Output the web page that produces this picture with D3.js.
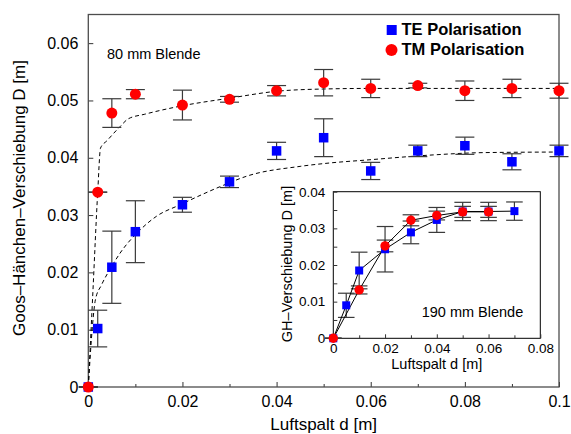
<!DOCTYPE html>
<html>
<head>
<meta charset="utf-8">
<script src="https://cdn.jsdelivr.net/npm/d3@7"></script>
<style>
  html, body { margin: 0; padding: 0; background: #fff; }
  svg { display: block; font-family: "Liberation Sans", Arial, Helvetica, sans-serif; }
</style>
</head>
<body>
<svg id="chart" width="571" height="434"></svg>
<script>
// ---- 80 mm aperture: measured shift vs. air gap ----
const gapMain   = [0, 0.002, 0.005, 0.01, 0.02, 0.03, 0.04, 0.05, 0.06, 0.07, 0.08, 0.09, 0.1];
const teMain    = [0, 0.0102, 0.0209, 0.0271, 0.0318, 0.0358, 0.0412, 0.0435, 0.0377, 0.0412, 0.0421, 0.0393, 0.0412];
const teMainErr = [0, 0.0032, 0.0063, 0.0054, 0.0013, 0.0010, 0.0015, 0.0033, 0.0015, 0.0010, 0.0015, 0.0014, 0.0010];
const tmMain    = [0, 0.0340, 0.0478, 0.0511, 0.0492, 0.0502, 0.0517, 0.0531, 0.0521, 0.0526, 0.0517, 0.0521, 0.0517];
const tmMainErr = [0, 0.0000, 0.0025, 0.0008, 0.0026, 0.0005, 0.0009, 0.0023, 0.0016, 0.0004, 0.0017, 0.0016, 0.0013];

// fitted curves (dashed)
const tmFitGap = [0, 0.001, 0.002, 0.0026, 0.004, 0.0067, 0.0085, 0.012, 0.0195, 0.03, 0.04, 0.05, 0.06, 0.08, 0.1];
const tmFitVal = [0, 0.017, 0.034, 0.0417, 0.0430, 0.0454, 0.0468, 0.0476, 0.0490, 0.0504, 0.0516, 0.0520, 0.0521, 0.0521, 0.0521];
const teFitGap = [0, 0.0005, 0.0012, 0.0015, 0.0028, 0.0048, 0.0067, 0.011, 0.0145, 0.0195, 0.0287, 0.0337, 0.045, 0.0514, 0.059, 0.0733, 0.084, 0.1];
const teFitVal = [0, 0.0065, 0.0134, 0.0152, 0.0178, 0.0208, 0.0233, 0.0274, 0.0298, 0.0318, 0.0352, 0.0368, 0.0385, 0.0391, 0.0396, 0.0405, 0.0409, 0.0410];

// ---- 190 mm aperture (inset) ----
const gapInsetTE = [0, 0.005, 0.01, 0.02, 0.03, 0.04, 0.05, 0.06, 0.07];
const teInset    = [0, 0.0090, 0.0185, 0.0243, 0.0289, 0.0323, 0.0346, 0.0346, 0.0347];
const teInsetErr = [0, 0.0033, 0.0050, 0.0062, 0.0031, 0.0034, 0.0025, 0.0025, 0.0025];
const gapInsetTM = [0, 0.01, 0.02, 0.03, 0.04, 0.05, 0.06];
const tmInset    = [0, 0.0132, 0.0252, 0.0322, 0.0335, 0.0345, 0.0345];
const tmInsetErr = [0, 0.0011, 0.0016, 0.0015, 0.0012, 0.0015, 0.0015];

// ---- ticks ----
const mainXTicks = [0, 0.02, 0.04, 0.06, 0.08, 0.1];
const mainXTickLabels = ["0", "0.02", "0.04", "0.06", "0.08", "0.1"];
const mainXMinor = [0.01, 0.03, 0.05, 0.07, 0.09];
const mainYTicks = [0, 0.01, 0.02, 0.03, 0.04, 0.05, 0.06];
const mainYTickLabels = ["0", "0.01", "0.02", "0.03", "0.04", "0.05", "0.06"];
const insetXTicks = [0, 0.02, 0.04, 0.06, 0.08];
const insetXTickLabels = ["0", "0.02", "0.04", "0.06", "0.08"];
const insetXMinor = [0.01, 0.03, 0.05, 0.07];
const insetYTicks = [0, 0.01, 0.02, 0.03, 0.04];
const insetYTickLabels = ["0", "0.01", "0.02", "0.03", "0.04"];
const insetYMinor = [0.005, 0.015, 0.025, 0.035];

const BLUE = "#0000ff", RED = "#ff0000", ERR = "#3a3a3a";

const svg = d3.select("#chart");

// ================= main panel =================
const x = d3.scaleLinear().domain([0, 0.1]).range([88.3, 559]);
const y = d3.scaleLinear().domain([0, 0.065]).range([387, 14.5]);

function styleAxis(g, size) {
  g.select(".domain").remove();
  g.selectAll(".tick line").attr("stroke", "#333").attr("stroke-width", 1);
  g.selectAll(".tick text").attr("fill", "#000").attr("font-size", size).attr("font-family", null);
}

svg.append("g").attr("transform", `translate(0,${y(0)})`)
  .call(d3.axisBottom(x).tickValues(mainXTicks).tickSize(-5).tickPadding(9)
    .tickFormat((d, i) => mainXTickLabels[i]))
  .call(g => styleAxis(g, 16));
svg.append("g").attr("transform", `translate(0,${y(0)})`)
  .call(d3.axisBottom(x).tickValues(mainXMinor).tickSize(-3).tickFormat(""))
  .call(g => styleAxis(g, 16));
svg.append("g").attr("transform", `translate(${x(0)},0)`)
  .call(d3.axisLeft(y).tickValues(mainYTicks).tickSize(-5).tickPadding(10)
    .tickFormat((d, i) => mainYTickLabels[i]))
  .call(g => styleAxis(g, 16));

svg.append("rect")
  .attr("x", x(0)).attr("y", y(0.065))
  .attr("width", x(0.1) - x(0)).attr("height", y(0) - y(0.065))
  .attr("fill", "none").attr("stroke", "#4d4d4d").attr("stroke-width", 1.3);

// fitted curves
const fitLine = d3.line().x(d => x(d[0])).y(d => y(d[1])).curve(d3.curveMonotoneX);
[[teFitGap, teFitVal], [tmFitGap, tmFitVal]].forEach(([gx, gy]) => {
  svg.append("path")
    .attr("d", fitLine(gx.map((v, i) => [v, gy[i]])))
    .attr("fill", "none").attr("stroke", "#000").attr("stroke-width", 1)
    .attr("stroke-dasharray", "4,3");
});

function errorBars(g, xs, ys, es, sx, sy, half, col, w) {
  const pts = xs.map((v, i) => ({ x: v, y: ys[i], e: es[i] }));
  const eg = g.append("g").attr("stroke", col).attr("stroke-width", w).attr("fill", "none");
  pts.forEach(p => {
    const cx = sx(p.x), y1 = sy(p.y + p.e), y2 = sy(p.y - p.e);
    eg.append("line").attr("x1", cx).attr("x2", cx).attr("y1", y1).attr("y2", y2);
    eg.append("line").attr("x1", cx - half).attr("x2", cx + half).attr("y1", y1).attr("y2", y1);
    eg.append("line").attr("x1", cx - half).attr("x2", cx + half).attr("y1", y2).attr("y2", y2);
  });
}
function squares(g, xs, ys, sx, sy, s) {
  g.append("g").selectAll("rect").data(xs.map((v, i) => [v, ys[i]])).join("rect")
    .attr("x", d => sx(d[0]) - s / 2).attr("y", d => sy(d[1]) - s / 2)
    .attr("width", s).attr("height", s).attr("fill", BLUE);
}
function circles(g, xs, ys, sx, sy, r) {
  g.append("g").selectAll("circle").data(xs.map((v, i) => [v, ys[i]])).join("circle")
    .attr("cx", d => sx(d[0])).attr("cy", d => sy(d[1])).attr("r", r).attr("fill", RED);
}

errorBars(svg, gapMain, teMain, teMainErr, x, y, 9.5, ERR, 1.2);
errorBars(svg, gapMain, tmMain, tmMainErr, x, y, 9.5, ERR, 1.2);
squares(svg, gapMain, teMain, x, y, 9.5);
circles(svg, gapMain, tmMain, x, y, 5.5);

svg.append("text").attr("x", 107).attr("y", 59).attr("font-size", 14.5).text("80 mm Blende");

// legend
svg.append("rect").attr("x", 386.7).attr("y", 25).attr("width", 10).attr("height", 10).attr("fill", BLUE);
svg.append("text").attr("x", 401.5).attr("y", 35).attr("font-size", 16.5).attr("font-weight", "bold").text("TE Polarisation");
svg.append("circle").attr("cx", 391.5).attr("cy", 50).attr("r", 6).attr("fill", RED);
svg.append("text").attr("x", 401.5).attr("y", 55).attr("font-size", 16.5).attr("font-weight", "bold").text("TM Polarisation");

// axis titles
svg.append("text").attr("x", 323.7).attr("y", 430).attr("text-anchor", "middle")
  .attr("font-size", 17).text("Luftspalt d [m]");
svg.append("text").attr("transform", "translate(25,198) rotate(-90)").attr("text-anchor", "middle")
  .attr("font-size", 17).text("Goos–Hänchen–Verschiebung D [m]");

// ================= inset =================
const xi = d3.scaleLinear().domain([0, 0.08]).range([333.3, 540.3]);
const yi = d3.scaleLinear().domain([0, 0.04]).range([338.3, 191.7]);
const inset = svg.append("g");

inset.append("rect")
  .attr("x", xi(0)).attr("y", yi(0.04))
  .attr("width", xi(0.08) - xi(0)).attr("height", yi(0) - yi(0.04))
  .attr("fill", "#fff").attr("stroke", "#000").attr("stroke-width", 1);

inset.append("g").attr("transform", `translate(0,${yi(0)})`)
  .call(d3.axisBottom(xi).tickValues(insetXTicks).tickSize(-4).tickPadding(5)
    .tickFormat((d, i) => insetXTickLabels[i]))
  .call(g => styleAxis(g, 13.5));
inset.append("g").attr("transform", `translate(0,${yi(0)})`)
  .call(d3.axisBottom(xi).tickValues(insetXMinor).tickSize(-3).tickFormat(""))
  .call(g => styleAxis(g, 13.5));
inset.append("g").attr("transform", `translate(${xi(0)},0)`)
  .call(d3.axisLeft(yi).tickValues(insetYTicks).tickSize(-4).tickPadding(8)
    .tickFormat((d, i) => insetYTickLabels[i]))
  .call(g => styleAxis(g, 13.5));
inset.append("g").attr("transform", `translate(${xi(0)},0)`)
  .call(d3.axisLeft(yi).tickValues(insetYMinor).tickSize(-4).tickFormat(""))
  .call(g => styleAxis(g, 13.5));

errorBars(inset, gapInsetTE, teInset, teInsetErr, xi, yi, 8.3, ERR, 1.2);
errorBars(inset, gapInsetTM, tmInset, tmInsetErr, xi, yi, 8.3, ERR, 1.2);

const link = d3.line().x(d => xi(d[0])).y(d => yi(d[1]));
inset.append("path").attr("d", link(gapInsetTE.map((v, i) => [v, teInset[i]])))
  .attr("fill", "none").attr("stroke", "#000").attr("stroke-width", 1);
inset.append("path").attr("d", link(gapInsetTM.map((v, i) => [v, tmInset[i]])))
  .attr("fill", "none").attr("stroke", "#000").attr("stroke-width", 1);

squares(inset, gapInsetTE, teInset, xi, yi, 8);
circles(inset, gapInsetTM, tmInset, xi, yi, 4.7);

inset.append("text").attr("x", 421.7).attr("y", 317).attr("font-size", 14.5).text("190 mm Blende");
inset.append("text").attr("x", 436.8).attr("y", 369).attr("text-anchor", "middle")
  .attr("font-size", 14.5).text("Luftspalt d [m]");
inset.append("text").attr("transform", "translate(292,264) rotate(-90)").attr("text-anchor", "middle")
  .attr("font-size", 14.5).text("GH–Verschiebung D [m]");
</script>
</body>
</html>
